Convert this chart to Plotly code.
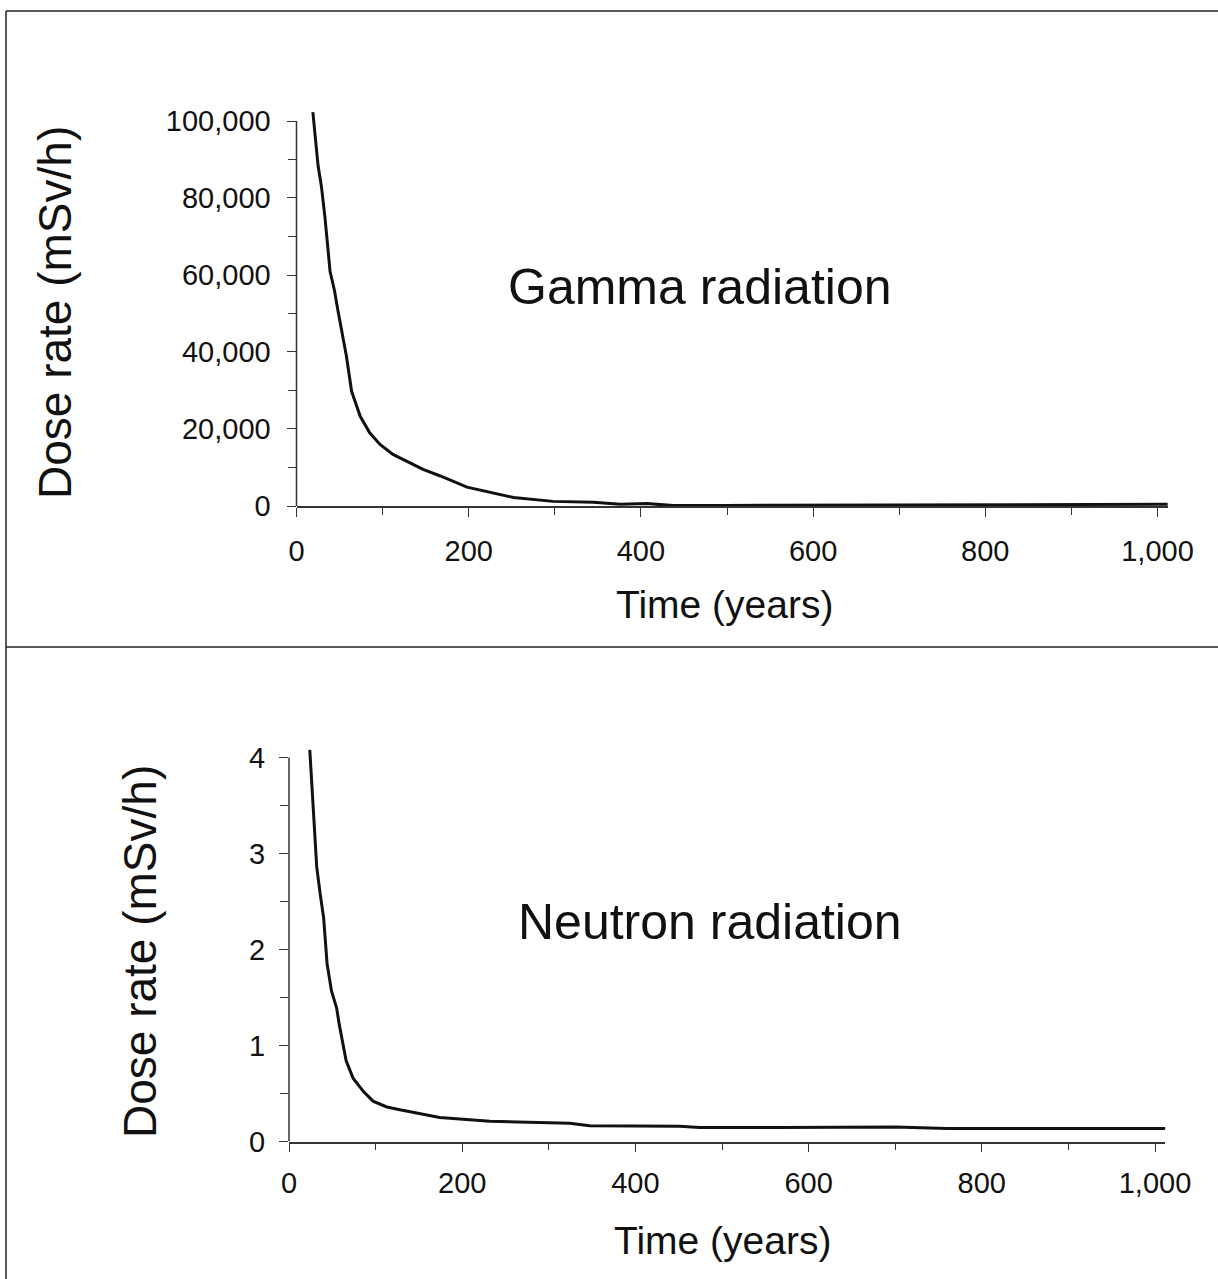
import plotly.graph_objects as go

# Dose rate decay over time for spent fuel
gamma_years = [19, 25, 29, 33, 39, 44, 48, 54, 58, 64, 74, 85, 97, 112, 147, 167, 198, 252, 298, 345, 376, 407, 438, 500, 560, 600, 700, 800, 900, 1012]
gamma_dose = [102300, 88500, 82900, 75100, 60900, 56100, 50900, 44000, 38900, 29800, 23300, 19000, 16000, 13400, 9500, 7800, 4900, 2200, 1200, 960, 440, 620, 100, 150, 200, 250, 300, 350, 400, 450]

neutron_years = [24, 32, 36, 40, 44, 49, 55, 58, 66, 74, 86, 97, 113, 128, 174, 200, 232, 324, 347, 451, 474, 567, 700, 760, 1012]
neutron_dose = [4.08, 2.86, 2.58, 2.33, 1.85, 1.57, 1.39, 1.22, 0.84, 0.66, 0.52, 0.42, 0.36, 0.33, 0.25, 0.235, 0.21, 0.19, 0.165, 0.16, 0.145, 0.145, 0.15, 0.135, 0.135]

x_ticks = [0, 200, 400, 600, 800, 1000]
gamma_y_ticks = [0, 20000, 40000, 60000, 80000, 100000]
neutron_y_ticks = [0, 1, 2, 3, 4]

W, H = 1218, 1279
FONT = "Liberation Sans, Arial, Helvetica, sans-serif"
INK = "#111111"
AXIS = "#333333"


def xdom(left, right):
    return [left / W, right / W]


def ydom(bottom, top):
    return [(H - bottom) / H, (H - top) / H]


fig = go.Figure()
fig.add_trace(go.Scatter(x=gamma_years, y=gamma_dose, mode="lines",
                         line=dict(color=INK, width=3), xaxis="x", yaxis="y",
                         showlegend=False, hoverinfo="skip"))
fig.add_trace(go.Scatter(x=neutron_years, y=neutron_dose, mode="lines",
                         line=dict(color=INK, width=3), xaxis="x2", yaxis="y2",
                         showlegend=False, hoverinfo="skip"))

tick_font = dict(family=FONT, size=29, color=INK)

common_x = dict(range=[0, 1012], tickvals=x_ticks, tickformat=",d",
                ticks="outside", ticklen=9, tickwidth=1.3, tickcolor=AXIS,
                showline=True, linecolor=AXIS, linewidth=1.5,
                showgrid=False, zeroline=False, tickfont=tick_font,
                automargin=False,
                minor=dict(dtick=100, ticks="outside", ticklen=7, tickwidth=1.3,
                           tickcolor=AXIS, showgrid=False),
                fixedrange=True)

common_y = dict(ticks="outside", ticklen=9, tickwidth=1.3, tickcolor=AXIS,
                showline=False, showgrid=False, zeroline=False,
                tickfont=tick_font, automargin=False, fixedrange=True)

fig.update_layout(
    width=W, height=H, autosize=False,
    margin=dict(l=0, r=0, t=0, b=0, pad=0),
    paper_bgcolor="white", plot_bgcolor="white",
    xaxis=dict(common_x, domain=xdom(296.5, 296.5 + 1012 * 0.861),
               anchor="y", ticklabelstandoff=9),
    yaxis=dict(common_y, domain=ydom(506, 506 - 103500 * 0.00385),
               range=[0, 103500], tickvals=gamma_y_ticks, tickformat=",d",
               anchor="x", ticklabelstandoff=10,
               minor=dict(dtick=10000, ticks="outside", ticklen=8, tickwidth=1.3,
                          tickcolor=AXIS, showgrid=False)),
    xaxis2=dict(common_x, domain=xdom(289, 289 + 1012 * 0.866),
                anchor="y2", ticklabelstandoff=6),
    yaxis2=dict(common_y, domain=ydom(1141.5, 1141.5 - 4.15 * 96),
                range=[0, 4.15], tickvals=neutron_y_ticks,
                anchor="x2", ticklabelstandoff=8,
                minor=dict(dtick=0.5, ticks="outside", ticklen=8, tickwidth=1.3,
                           tickcolor=AXIS, showgrid=False)),
)

# Vertical axis lines stop at the top labelled tick
fig.add_shape(type="line", xref="x domain", yref="y", x0=0, x1=0,
              y0=0, y1=gamma_y_ticks[-1], line=dict(color=AXIS, width=1.5))
fig.add_shape(type="line", xref="x2 domain", yref="y2", x0=0, x1=0,
              y0=0, y1=neutron_y_ticks[-1], line=dict(color=AXIS, width=1.5))

# Page frame: top edge, left edge and the rule between the two panels
frame = dict(color="#222222", width=1.5)
fig.add_shape(type="line", xref="paper", yref="paper",
              x0=6 / W, x1=1, y0=(H - 11) / H, y1=(H - 11) / H, line=frame)
fig.add_shape(type="line", xref="paper", yref="paper",
              x0=6 / W, x1=6 / W, y0=0, y1=(H - 11) / H, line=frame)
fig.add_shape(type="line", xref="paper", yref="paper",
              x0=6 / W, x1=1, y0=(H - 647) / H, y1=(H - 647) / H, line=frame)


def note(text, x, y, size, angle=0):
    fig.add_annotation(text=text, xref="paper", yref="paper",
                       x=x / W, y=(H - y) / H, xanchor="center", yanchor="middle",
                       showarrow=False, textangle=angle,
                       font=dict(family=FONT, size=size, color=INK))


note("Gamma radiation", 700, 287, 50)
note("Neutron radiation", 710, 922, 50)
note("Dose rate (mSv/h)", 55, 313, 46, -90)
note("Dose rate (mSv/h)", 140, 952, 46, -90)
note("Time (years)", 724, 604, 39)
note("Time (years)", 722, 1240, 39)

fig.write_html("out.html", config={"displayModeBar": False})
